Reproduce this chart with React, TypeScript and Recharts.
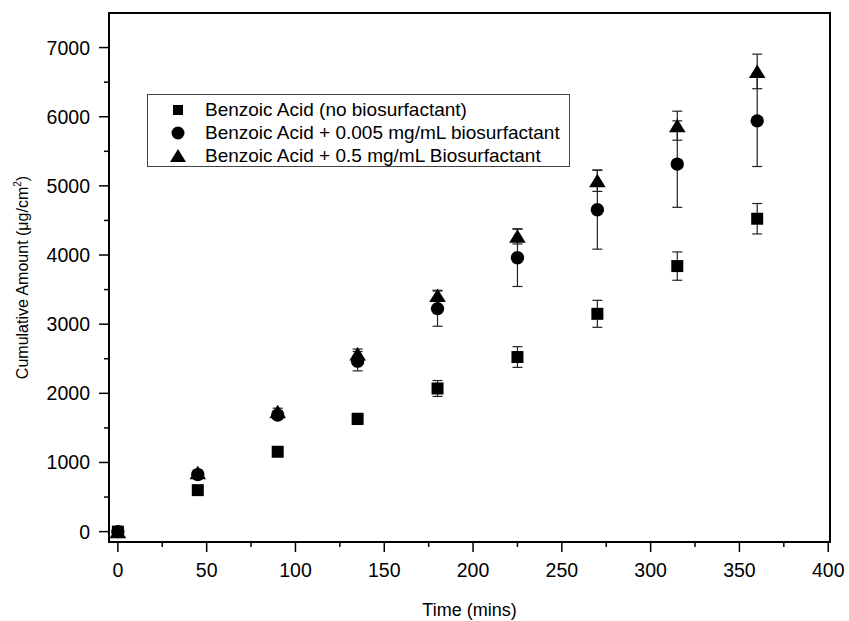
import React from 'react';
import { ScatterChart, Scatter, XAxis, YAxis, ErrorBar, ReferenceArea, Legend } from 'recharts';

const times = [0, 45, 90, 135, 180, 225, 270, 315, 360];
const noBio = [0, 600, 1155, 1630, 2070, 2525, 3150, 3840, 4525];
const noBioErr = [0, 30, 40, 80, 115, 150, 195, 205, 220];
const lowBio = [0, 825, 1685, 2465, 3225, 3960, 4655, 5315, 5940];
const lowBioErr = [0, 40, 60, 140, 255, 415, 570, 625, 660];
const highBio = [0, 850, 1735, 2570, 3415, 4270, 5075, 5870, 6655];
const highBioErr = [0, 40, 50, 70, 75, 110, 155, 210, 250];

const seriesNames = [
  'Benzoic Acid (no biosurfactant)',
  'Benzoic Acid + 0.005 mg/mL biosurfactant',
  'Benzoic Acid + 0.5 mg/mL Biosurfactant',
];

const xTicks = [0, 25, 50, 75, 100, 125, 150, 175, 200, 225, 250, 275, 300, 325, 350, 375, 400];
const yTicks = [0, 500, 1000, 1500, 2000, 2500, 3000, 3500, 4000, 4500, 5000, 5500, 6000, 6500, 7000];
const xDomain = [-5, 401];
const yDomain = [-150, 7500];

const FONT = '"Liberation Sans", Arial, sans-serif';

const build = (vals: number[], errs: number[]) => times.map((t, i) => ({ x: t, y: vals[i], err: errs[i] }));
const dataNo = build(noBio, noBioErr);
const dataLow = build(lowBio, lowBioErr);
const dataHigh = build(highBio, highBioErr);

const Square = (p: any) => <rect x={p.cx - 6} y={p.cy - 6} width={12} height={12} fill="#000" />;
const Circle = (p: any) => <circle cx={p.cx} cy={p.cy} r={6.7} fill="#000" />;
const Triangle = (p: any) => (
  <polygon points={`${p.cx},${p.cy - 7} ${p.cx - 8.3},${p.cy + 6.5} ${p.cx + 8.3},${p.cy + 6.5}`} fill="#000" />
);

const XTick = (props: any) => {
  const { x, y, payload } = props;
  const major = payload.value % 50 === 0;
  return (
    <g>
      <line x1={x} x2={x} y1={y} y2={y + (major ? 10 : 5)} stroke="#000" strokeWidth={1.5} />
      {major && (
        <text x={x} y={y + 35} textAnchor="middle" fontSize={19.5} fontFamily={FONT} fill="#000">
          {payload.value}
        </text>
      )}
    </g>
  );
};

const YTick = (props: any) => {
  const { x, y, payload } = props;
  const major = payload.value % 1000 === 0;
  return (
    <g>
      <line x1={x - (major ? 10 : 5)} x2={x} y1={y} y2={y} stroke="#000" strokeWidth={1.5} />
      {major && (
        <text x={x - 19} y={y} dy="0.36em" textAnchor="end" fontSize={19.5} fontFamily={FONT} fill="#000">
          {payload.value}
        </text>
      )}
    </g>
  );
};

const XTitle = (props: any) => {
  const vb = props.viewBox || { x: 109, width: 721 };
  return (
    <text x={vb.x + vb.width / 2} y={616} textAnchor="middle" fontSize={18} fontFamily={FONT} fill="#000">
      Time (mins)
    </text>
  );
};

const YTitle = (props: any) => {
  const vb = props.viewBox || { y: 13, height: 529 };
  const cy = vb.y + vb.height / 2;
  return (
    <text x={28} y={cy} transform={`rotate(-90, 28, ${cy})`} textAnchor="middle" fontSize={16} fontFamily={FONT} fill="#000">
      Cumulative Amount (μg/cm<tspan dy={-7} fontSize={10}>2</tspan>
      <tspan dy={7}>)</tspan>
    </text>
  );
};

const markers = [
  <rect x={-5} y={-5} width={10} height={10} fill="#000" />,
  <circle cx={0} cy={0} r={6.5} fill="#000" />,
  <polygon points="0,-7 -8,6 8,6" fill="#000" />,
];

const LegendBox = () => (
  <div
    style={{
      position: 'relative',
      width: 423,
      height: 73,
      border: '1px solid #444',
      boxSizing: 'border-box',
      background: '#fff',
      fontFamily: FONT,
      fontSize: 19,
      color: '#000',
    }}
  >
    {seriesNames.map((name, i) => (
      <div key={name} style={{ position: 'absolute', left: 0, top: 3 + i * 23, height: 23, width: '100%' }}>
        <svg width={20} height={20} style={{ position: 'absolute', left: 20, top: 1.5 }} viewBox="-10 -10 20 20">
          {markers[i]}
        </svg>
        <span style={{ position: 'absolute', left: 57, top: 0, lineHeight: '23px', whiteSpace: 'nowrap' }}>{name}</span>
      </div>
    ))}
  </div>
);

export default function App() {
  return (
    <div style={{ position: 'absolute', left: 0, top: 0, background: '#fff' }}>
      <ScatterChart width={849} height={621} margin={{ top: 13, right: 19, bottom: 39, left: 9 }}>
        <XAxis
          type="number"
          dataKey="x"
          domain={xDomain}
          ticks={xTicks}
          interval={0}
          allowDataOverflow
          tickSize={0}
          tickMargin={0}
          tickLine={false}
          tick={<XTick />}
          height={40}
          axisLine={{ stroke: '#000', strokeWidth: 2 }}
          label={<XTitle />}
        />
        <YAxis
          type="number"
          dataKey="y"
          domain={yDomain}
          ticks={yTicks}
          interval={0}
          allowDataOverflow
          tickSize={0}
          tickMargin={0}
          tickLine={false}
          tick={<YTick />}
          width={100}
          axisLine={{ stroke: '#000', strokeWidth: 2 }}
          label={<YTitle />}
        />
        <ReferenceArea
          x1={xDomain[0]}
          x2={xDomain[1]}
          y1={yDomain[0]}
          y2={yDomain[1]}
          fill="none"
          fillOpacity={0}
          stroke="#000"
          strokeWidth={2}
          ifOverflow="extendDomain"
        />
        <Legend
          layout="vertical"
          align="center"
          verticalAlign="middle"
          content={<LegendBox />}
          wrapperStyle={{ left: 147, top: 94, width: 423, height: 73 }}
        />
        <Scatter name={seriesNames[0]} data={dataNo} shape={Square} isAnimationActive={false}>
          <ErrorBar dataKey="err" direction="y" width={5} stroke="#222" strokeWidth={1.2} />
        </Scatter>
        <Scatter name={seriesNames[1]} data={dataLow} shape={Circle} isAnimationActive={false}>
          <ErrorBar dataKey="err" direction="y" width={5} stroke="#222" strokeWidth={1.2} />
        </Scatter>
        <Scatter name={seriesNames[2]} data={dataHigh} shape={Triangle} isAnimationActive={false}>
          <ErrorBar dataKey="err" direction="y" width={5} stroke="#222" strokeWidth={1.2} />
        </Scatter>
      </ScatterChart>
    </div>
  );
}
